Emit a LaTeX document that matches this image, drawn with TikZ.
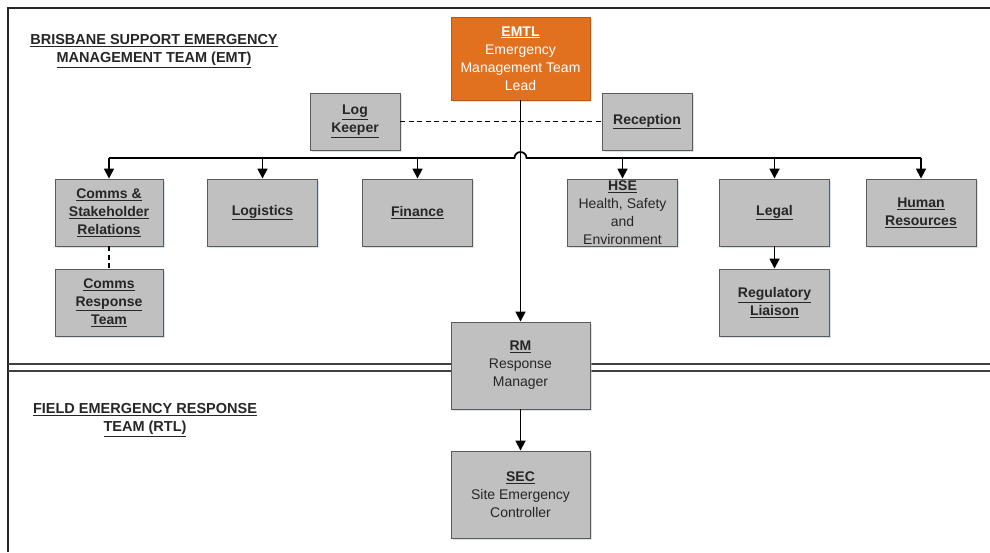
\documentclass[tikz,border=0pt]{standalone}
\usepackage{fontspec}
\setmainfont{Liberation Sans}
\usetikzlibrary{arrows.meta,shadows}
\definecolor{boxgray}{HTML}{C0C0C0}
\definecolor{boxline}{HTML}{5A5A5A}
\definecolor{emtlorange}{HTML}{E2711F}
\definecolor{txtgray}{HTML}{262626}
\definecolor{shadowblue}{HTML}{B8C4D6}
\newcommand{\hd}[1]{\underline{\textbf{#1}}}
\tikzset{
	rolebox/.style={draw=boxline, fill=boxgray, line width=0.9pt, text=txtgray,
		align=center, inner sep=0pt, minimum width=110pt, minimum height=67pt,
		font=\fontsize{14}{18}\selectfont,
		drop shadow={shadow xshift=1.5pt, shadow yshift=-1.5pt, opacity=0.5, fill=shadowblue}},
	bigbox/.style={rolebox, minimum width=139pt, minimum height=87pt},
	arr/.style={line width=1.7pt, -{Triangle[width=10pt,length=10pt]}},
	link/.style={line width=1.7pt},
	title/.style={align=center, text=txtgray, font=\fontsize{14.5}{18}\selectfont}
}
\begin{document}
\begin{tikzpicture}[x=1pt,y=-1pt]
	\useasboundingbox (0,0) rectangle (990,552);
	% frame and split line
	\draw[line width=1.8pt, draw=black!85] (8,552) -- (8,8) -- (990,8);
	\draw[line width=1.6pt, draw=black!75] (8,364) -- (990,364);
	\draw[line width=1.6pt, draw=black!75] (8,371) -- (990,371);
	\node[title] (emttitle) at (154,51) {\hd{BRISBANE SUPPORT EMERGENCY}\\\hd{MANAGEMENT TEAM (EMT)}};
	\node[title] (rtltitle) at (145,420) {\hd{FIELD EMERGENCY RESPONSE}\\\hd{TEAM (RTL)}};
	% boxes
	\node[bigbox, minimum height=83pt, fill=emtlorange, draw=emtlorange!80!black, text=white] (emtl) at (520.5,58.5)
		{\hd{EMTL}\\Emergency\\Management Team\\Lead};
	\node[rolebox, minimum width=90pt, minimum height=57pt] (logk) at (355,121.5) {\hd{Log}\\\hd{Keeper}};
	\node[rolebox, minimum width=90pt, minimum height=57pt] (recep) at (647,121.5) {\hd{Reception}};
	\node[rolebox, minimum width=108pt] (comms) at (109,212.5) {\hd{Comms \&}\\\hd{Stakeholder}\\\hd{Relations}};
	\node[rolebox] (logis) at (262.5,212.5) {\hd{Logistics}};
	\node[rolebox] (fin) at (417.5,212.5) {\hd{Finance}};
	\node[rolebox] (hse) at (622.5,212.5) {\hd{HSE}\\Health, Safety\\and\\Environment};
	\node[rolebox] (legal) at (774.5,212.5) {\hd{Legal}};
	\node[rolebox] (hr) at (921,212.5) {\hd{Human}\\\hd{Resources}};
	\node[rolebox, minimum width=108pt] (crt) at (109,302.5) {\hd{Comms}\\\hd{Response}\\\hd{Team}};
	\node[rolebox] (reg) at (774.5,302.5) {\hd{Regulatory}\\\hd{Liaison}};
	\node[bigbox] (rm) at (520.5,365.5) {\hd{RM}\\Response\\Manager};
	\node[bigbox] (sec) at (520.5,494.5) {\hd{SEC}\\Site Emergency\\Controller};
	% connectors
	\draw[link, dash pattern=on 5pt off 3.5pt] (logk) -- (recep);
	\coordinate (busL) at (109,158);
	\coordinate (busR) at (921,158);
	\draw[link] (busL) -- (514.5,158) arc[start angle=180, end angle=360, radius=6] -- (busR);
	\foreach \n in {comms,logis,fin,hse,legal,hr}
	{
		\draw[arr] (\n.north |- busL) -- (\n.north);
	}
	\draw[arr] (emtl) -- (rm);
	\draw[arr] (rm) -- (sec);
	\draw[arr] (legal) -- (reg);
	\draw[link, dash pattern=on 5pt off 3.5pt] (comms) -- (crt);
\end{tikzpicture}
\end{document}
